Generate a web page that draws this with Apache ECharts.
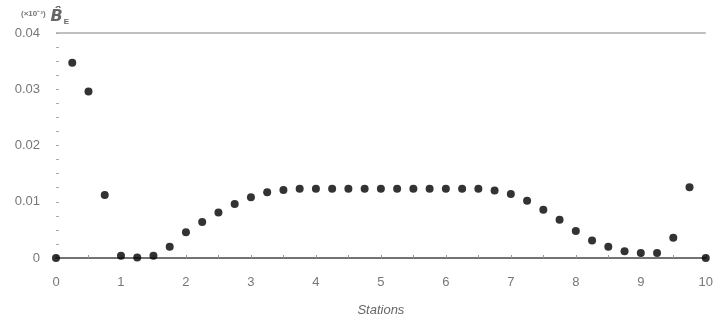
<!DOCTYPE html>
<html><head><meta charset="utf-8">
<script src="https://cdn.jsdelivr.net/npm/echarts@6/dist/echarts.min.js"></script>
<style>html,body{margin:0;padding:0;background:#fff}#c{width:716px;height:324px}</style>
</head><body><div id="c"></div>
<script>
const stations = [0,0.25,0.5,0.75,1,1.25,1.5,1.75,2,2.25,2.5,2.75,3,3.25,3.5,3.75,4,4.25,4.5,4.75,5,5.25,5.5,5.75,6,6.25,6.5,6.75,7,7.25,7.5,7.75,8,8.25,8.5,8.75,9,9.25,9.5,9.75,10];
const bValues = [0,0.0347,0.0296,0.0112,0.0004,0.0001,0.0004,0.0020,0.0046,0.0064,0.0081,0.0096,0.0108,0.0117,0.0121,0.0123,0.0123,0.0123,0.0123,0.0123,0.0123,0.0123,0.0123,0.0123,0.0123,0.0123,0.0123,0.0120,0.0114,0.0102,0.0086,0.0068,0.0048,0.0031,0.0020,0.0012,0.0009,0.0009,0.0036,0.0126,0];
const yTickLabels = ['0','0.01','0.02','0.03','0.04'];
const xTickLabels = ['0','1','2','3','4','5','6','7','8','9','10'];

const chart = echarts.init(document.getElementById('c'));
const font = '"Liberation Sans Narrow", "Liberation Sans", Arial, sans-serif';
chart.setOption({
  animation: false,
  backgroundColor: '#fff',
  grid: {left: 56, right: 5, top: 33, bottom: 66},
  title: {
    left: 16, top: 3,
    text: '{s|(×10⁻³)} {b|B̂}{e|E}',
    textStyle: {
      rich: {
        s: {fontSize: 8, color: '#777', fontFamily: font, padding:[0,0,6,0]},
        b: {fontSize: 16, color: '#666', fontStyle: 'italic', fontFamily: 'DejaVu Sans, sans-serif'},
        e: {fontSize: 8, color: '#666', fontFamily: font, padding:[9,0,0,1]}
      }
    }
  },
  xAxis: {
    type: 'value', min: 0, max: 10, interval: 0.5,
    name: 'Stations', nameLocation: 'middle', nameGap: 46,
    nameTextStyle: {fontStyle: 'italic', fontSize: 13, color: '#666', fontFamily: font},
    axisLine: {show: true, lineStyle: {color: '#444', width: 1.5}},
    axisTick: {show: true, inside: true, length: 3, lineStyle: {color: '#999'}},
    splitLine: {show: false},
    axisLabel: {
      margin: 18, fontSize: 13, color: '#777', fontFamily: font,
      formatter: v => Number.isInteger(v) ? xTickLabels[v] : ''
    }
  },
  yAxis: {
    type: 'value', min: 0, max: 0.04, interval: 0.0025,
    axisLine: {show: false},
    axisTick: {show: true, inside: true, length: 3, lineStyle: {color: '#aaa'}},
    splitLine: {show: false},
    axisLabel: {
      margin: 16, fontSize: 13, color: '#777', fontFamily: font,
      formatter: v => {
        const k = Math.round(v / 0.01 * 1000) / 1000;
        return Number.isInteger(k) ? yTickLabels[k] : '';
      }
    }
  },
  series: [{
    type: 'scatter',
    data: stations.map((s, i) => [s, bValues[i]]),
    symbolSize: 8,
    itemStyle: {color: '#000'},
    markLine: {
      silent: true, symbol: 'none', label: {show: false},
      lineStyle: {color: '#aaa', width: 1.5, type: 'solid'},
      data: [{yAxis: 0.04}]
    }
  }]
});
</script></body></html>
